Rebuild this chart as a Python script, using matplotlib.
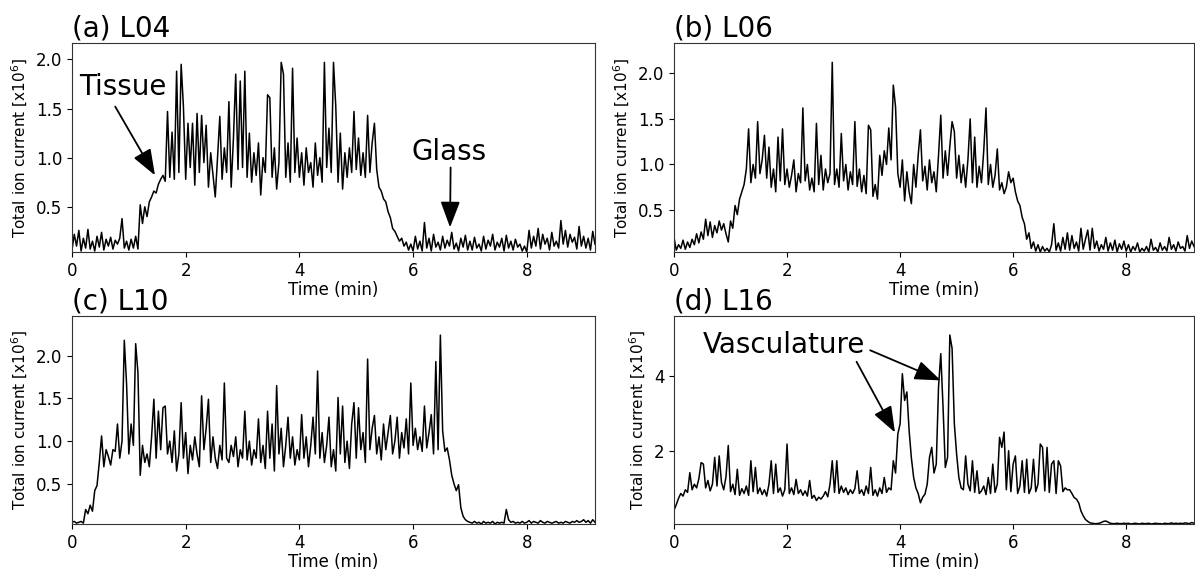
import numpy as np
import matplotlib
matplotlib.use("Agg")
import matplotlib.pyplot as plt

# total ion current (x1e6), one scan every 0.04 min, rows = 1 minute
scan_step = 0.04

tic_L04 = [
    0.06, 0.22, 0.10, 0.26, 0.05, 0.18, 0.08, 0.27, 0.07, 0.15, 0.05, 0.20, 0.09, 0.24, 0.06, 0.17, 0.10, 0.19, 0.07, 0.16, 0.12, 0.18, 0.38, 0.08, 0.15,
    0.06, 0.17, 0.08, 0.20, 0.07, 0.52, 0.33, 0.50, 0.40, 0.55, 0.60, 0.66, 0.64, 0.73, 0.78, 0.82, 0.76, 1.47, 0.80, 1.26, 0.78, 1.88, 0.85, 1.95, 1.52,
    0.78, 1.35, 0.90, 1.35, 0.72, 1.45, 0.85, 1.43, 0.95, 1.33, 0.70, 1.05, 0.82, 0.60, 1.00, 1.42, 0.78, 1.10, 0.85, 1.57, 0.70, 1.20, 1.85, 0.88, 1.78,
    0.90, 1.88, 0.80, 1.25, 0.75, 1.05, 0.82, 1.15, 0.62, 1.00, 0.85, 1.64, 1.61, 0.80, 1.10, 0.68, 0.95, 1.97, 1.85, 0.80, 1.15, 0.75, 1.91, 0.85, 1.20,
    0.80, 1.05, 0.72, 1.10, 0.85, 0.95, 0.70, 1.15, 0.82, 1.00, 0.75, 1.97, 0.90, 1.30, 0.85, 1.97, 1.52, 0.75, 1.25, 0.68, 1.05, 0.80, 1.10, 0.85, 1.47,
    0.88, 1.20, 0.82, 1.05, 0.80, 1.43, 0.85, 1.15, 1.35, 0.88, 0.70, 0.66, 0.58, 0.55, 0.45, 0.39, 0.28, 0.25, 0.20, 0.15, 0.18, 0.10, 0.14, 0.06, 0.12,
    0.05, 0.20, 0.07, 0.15, 0.05, 0.34, 0.08, 0.18, 0.05, 0.22, 0.09, 0.14, 0.06, 0.20, 0.08, 0.16, 0.10, 0.24, 0.07, 0.13, 0.05, 0.18, 0.09, 0.21, 0.06,
    0.15, 0.06, 0.19, 0.08, 0.12, 0.05, 0.20, 0.07, 0.16, 0.10, 0.22, 0.06, 0.14, 0.09, 0.18, 0.05, 0.21, 0.08, 0.15, 0.06, 0.17, 0.09, 0.12, 0.05, 0.10,
    0.04, 0.26, 0.08, 0.20, 0.10, 0.28, 0.07, 0.22, 0.12, 0.18, 0.06, 0.24, 0.10, 0.15, 0.08, 0.36, 0.12, 0.26, 0.09, 0.22, 0.14, 0.19, 0.07, 0.30, 0.10,
    0.20, 0.08, 0.18, 0.06, 0.25, 0.12,
]

tic_L06 = [
    0.20, 0.06, 0.12, 0.08, 0.17, 0.07, 0.15, 0.09, 0.18, 0.12, 0.24, 0.14, 0.26, 0.18, 0.40, 0.22, 0.37, 0.20, 0.33, 0.25, 0.38, 0.28, 0.35, 0.24, 0.15,
    0.38, 0.30, 0.55, 0.45, 0.62, 0.70, 0.78, 0.95, 1.39, 0.80, 1.00, 0.85, 1.47, 0.90, 1.05, 1.32, 0.85, 1.19, 0.75, 0.95, 0.70, 1.30, 0.82, 1.39, 0.78,
    0.95, 0.75, 0.88, 1.05, 0.70, 0.90, 0.80, 1.62, 0.82, 1.00, 0.72, 0.85, 0.70, 1.45, 0.78, 1.10, 0.72, 0.95, 0.80, 0.90, 2.12, 0.78, 0.95, 0.75, 1.34,
    0.82, 1.00, 0.72, 0.92, 0.78, 1.47, 0.76, 0.95, 0.70, 0.88, 0.68, 1.43, 1.38, 0.65, 0.78, 0.62, 1.10, 0.88, 1.15, 1.00, 1.40, 1.05, 1.87, 1.63, 0.90,
    0.75, 1.05, 0.60, 0.92, 0.70, 0.57, 1.00, 0.75, 1.10, 1.38, 0.82, 0.98, 0.72, 1.05, 0.80, 0.92, 0.70, 1.10, 1.54, 0.85, 1.15, 0.88, 1.20, 1.47, 1.36,
    0.85, 1.10, 0.80, 1.00, 0.75, 1.05, 1.50, 0.80, 1.30, 0.75, 0.98, 0.80, 1.15, 1.62, 0.78, 1.00, 0.75, 0.88, 1.17, 0.72, 0.80, 0.68, 0.75, 0.92, 0.80,
    0.85, 0.70, 0.60, 0.55, 0.42, 0.35, 0.18, 0.25, 0.08, 0.15, 0.05, 0.12, 0.04, 0.10, 0.05, 0.08, 0.04, 0.12, 0.35, 0.06, 0.14, 0.05, 0.20, 0.07, 0.25,
    0.06, 0.22, 0.08, 0.15, 0.05, 0.30, 0.07, 0.18, 0.28, 0.06, 0.30, 0.08, 0.16, 0.05, 0.12, 0.07, 0.20, 0.05, 0.14, 0.06, 0.17, 0.04, 0.13, 0.07, 0.16,
    0.05, 0.12, 0.04, 0.10, 0.06, 0.14, 0.04, 0.08, 0.05, 0.10, 0.04, 0.18, 0.06, 0.09, 0.04, 0.14, 0.06, 0.10, 0.05, 0.20, 0.07, 0.12, 0.05, 0.15, 0.08,
    0.10, 0.05, 0.22, 0.08, 0.16, 0.10,
]

tic_L10 = [
    0.05, 0.06, 0.04, 0.05, 0.06, 0.04, 0.20, 0.15, 0.25, 0.18, 0.42, 0.48, 0.75, 1.06, 0.70, 0.90, 0.82, 0.72, 0.90, 0.88, 1.20, 0.80, 1.00, 2.18, 1.67,
    0.85, 1.20, 0.95, 2.14, 1.80, 0.60, 0.95, 0.75, 0.85, 0.70, 1.05, 1.49, 0.80, 1.35, 0.90, 1.39, 1.41, 0.85, 1.00, 0.75, 1.12, 0.65, 0.85, 1.45, 0.80,
    1.10, 0.62, 0.95, 0.78, 1.05, 0.85, 0.70, 1.53, 0.90, 1.15, 1.49, 0.75, 1.05, 0.80, 0.68, 0.95, 0.78, 1.68, 0.80, 0.75, 0.95, 0.82, 1.05, 0.70, 0.90,
    0.80, 1.35, 0.78, 1.00, 0.72, 0.90, 0.80, 1.26, 0.75, 0.95, 0.68, 1.35, 0.80, 1.20, 0.65, 1.65, 0.85, 1.15, 0.70, 0.95, 1.28, 0.80, 1.05, 0.72, 0.90,
    0.78, 1.31, 0.80, 1.05, 0.70, 0.95, 1.28, 0.85, 1.82, 0.80, 1.10, 0.75, 0.95, 1.28, 0.70, 0.90, 0.65, 1.51, 0.85, 1.41, 0.75, 1.00, 0.68, 1.20, 1.45,
    0.80, 1.39, 0.90, 1.10, 0.75, 1.96, 0.90, 1.15, 1.30, 0.85, 1.05, 0.78, 1.20, 0.90, 1.10, 1.30, 0.85, 1.00, 1.28, 0.80, 1.10, 0.92, 1.26, 0.85, 1.68,
    0.95, 1.15, 0.90, 1.05, 0.88, 1.41, 0.92, 1.10, 1.31, 0.85, 1.93, 0.90, 2.24, 1.12, 0.88, 0.92, 0.78, 0.60, 0.50, 0.42, 0.49, 0.22, 0.12, 0.08, 0.06,
    0.05, 0.04, 0.06, 0.04, 0.05, 0.03, 0.06, 0.04, 0.05, 0.04, 0.06, 0.03, 0.05, 0.04, 0.05, 0.04, 0.20, 0.08, 0.05, 0.06, 0.04, 0.05, 0.04, 0.06, 0.04,
    0.05, 0.07, 0.04, 0.06, 0.05, 0.04, 0.07, 0.05, 0.04, 0.06, 0.05, 0.04, 0.05, 0.06, 0.04, 0.05, 0.04, 0.06, 0.05, 0.04, 0.06, 0.05, 0.07, 0.05, 0.06,
    0.08, 0.05, 0.07, 0.04, 0.08, 0.05,
]

tic_L16 = [
    0.40, 0.55, 0.72, 0.85, 0.78, 0.95, 0.88, 1.41, 0.95, 1.10, 1.00, 1.25, 1.68, 1.64, 1.00, 1.20, 0.92, 1.10, 1.82, 1.05, 1.86, 1.15, 0.95, 1.30, 2.14,
    0.90, 1.10, 0.82, 1.50, 0.80, 0.98, 0.85, 1.05, 0.80, 1.73, 0.90, 1.55, 0.85, 1.00, 0.82, 0.95, 0.78, 1.10, 1.73, 0.85, 1.64, 0.88, 1.00, 0.78, 0.95,
    2.18, 0.85, 1.00, 0.82, 1.23, 0.85, 0.95, 0.80, 0.92, 0.78, 1.20, 0.72, 0.80, 0.66, 0.75, 0.70, 0.78, 0.90, 0.76, 1.10, 1.73, 0.88, 1.73, 0.85, 1.05,
    0.88, 1.00, 0.82, 0.95, 0.85, 0.98, 1.46, 0.85, 0.95, 0.80, 1.05, 0.85, 1.55, 0.80, 0.95, 0.78, 1.00, 0.85, 1.28, 0.88, 1.00, 0.95, 1.73, 1.40, 2.45,
    2.72, 4.07, 3.35, 3.58, 2.54, 1.80, 1.28, 1.00, 0.85, 0.60, 0.75, 0.83, 1.10, 1.82, 2.09, 1.40, 1.64, 3.71, 4.61, 3.17, 1.55, 1.82, 5.11, 4.75, 2.72,
    1.91, 1.28, 1.00, 0.95, 1.86, 1.10, 0.92, 1.73, 0.88, 1.46, 0.85, 0.92, 1.05, 0.82, 1.28, 0.85, 1.64, 0.88, 1.10, 2.36, 2.09, 2.50, 0.95, 2.00, 0.90,
    1.64, 1.86, 0.85, 1.05, 1.73, 0.88, 1.77, 0.85, 1.00, 1.77, 0.90, 1.10, 2.18, 2.09, 0.92, 2.09, 0.88, 1.64, 1.73, 0.85, 1.73, 1.59, 0.90, 1.00, 0.95,
    0.95, 0.85, 0.74, 0.70, 0.60, 0.38, 0.25, 0.15, 0.10, 0.06, 0.05, 0.04, 0.04, 0.05, 0.07, 0.10, 0.11, 0.08, 0.05, 0.04, 0.04, 0.05, 0.04, 0.04, 0.05,
    0.04, 0.05, 0.03, 0.04, 0.05, 0.04, 0.03, 0.05, 0.04, 0.04, 0.05, 0.03, 0.04, 0.05, 0.04, 0.04, 0.03, 0.05, 0.04, 0.04, 0.06, 0.04, 0.05, 0.04, 0.05,
    0.04, 0.06, 0.05, 0.04, 0.07, 0.05,
]

titles = ["(a) L04", "(b) L06", "(c) L10", "(d) L16"]
series = [tic_L04, tic_L06, tic_L10, tic_L16]
yticks = [[0.5, 1.0, 1.5, 2.0], [0.5, 1.0, 1.5, 2.0], [0.5, 1.0, 1.5, 2.0], [2, 4]]

fig = plt.figure(figsize=(11.95, 5.72), dpi=100)
W, H = 1195, 572
boxes = [(72, 43, 595, 252), (674, 43, 1194, 252),
         (72, 316, 595, 524), (674, 316, 1194, 524)]

axes = []
for (l, t, r, b), vals, title, yt in zip(boxes, series, titles, yticks):
    ax = fig.add_axes([l / W, 1 - b / H, (r - l) / W, (b - t) / H])
    vals = np.array(vals)
    time = np.arange(len(vals)) * scan_step
    ax.plot(time, vals, color='black', lw=1.1)
    ax.set_xlim(0, time[-1])
    ax.set_ylim(vals.min(), vals.max() * 1.1)
    ax.set_xticks([0, 2, 4, 6, 8])
    ax.set_yticks(yt)
    ax.tick_params(labelsize=12)
    ax.set_xlabel('Time (min)', fontsize=12, labelpad=1)
    ax.set_ylabel('Total ion current [x10$^6$]', fontsize=11)
    ax.set_title(title, loc='left', fontsize=20, pad=2)
    for s in ax.spines.values():
        s.set_color('#333333')
    axes.append(ax)

arrow = dict(arrowstyle='-|>,head_length=0.8,head_width=0.3',
             mutation_scale=20, color='black', lw=1.3, shrinkA=0, shrinkB=0)

ax = axes[0]
ax.text(0.90, 1.72, 'Tissue', fontsize=20, ha='center', va='center')
ax.annotate('', xy=(1.46, 0.82), xytext=(0.76, 1.52), arrowprops=arrow)
ax.text(6.64, 1.06, 'Glass', fontsize=20, ha='center', va='center')
ax.annotate('', xy=(6.65, 0.29), xytext=(6.66, 0.90), arrowprops=arrow)

ax = axes[3]
ax.text(1.95, 4.84, 'Vasculature', fontsize=20, ha='center', va='center')
ax.annotate('', xy=(3.91, 2.49), xytext=(3.23, 4.39), arrowprops=arrow)
ax.annotate('', xy=(4.72, 3.89), xytext=(3.47, 4.70), arrowprops=arrow)

fig.savefig('out.png', dpi=100)
